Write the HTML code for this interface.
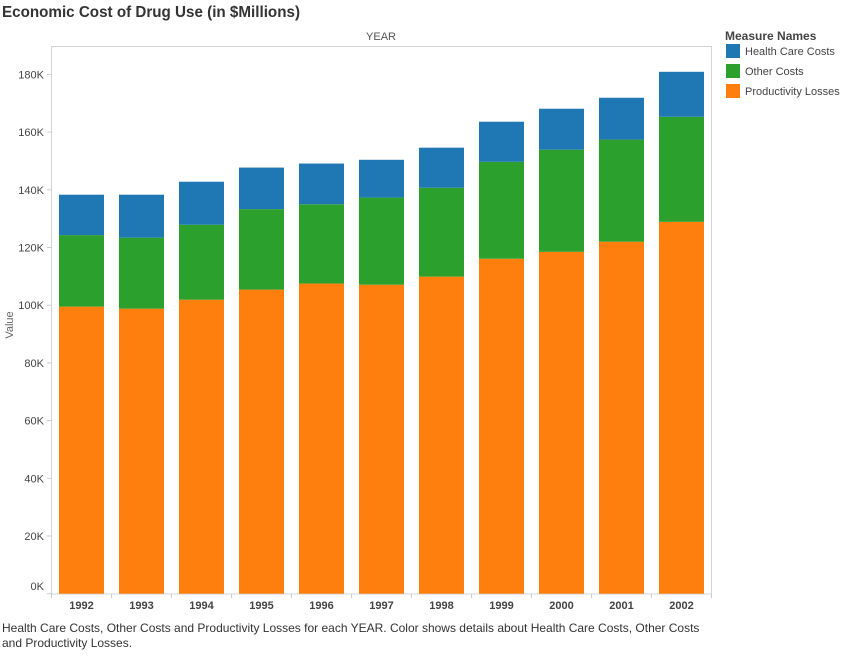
<!DOCTYPE html>
<html><head><meta charset="utf-8"><style>
body{margin:0;background:#fff;font-family:"Liberation Sans",sans-serif;}
svg text{font-family:"Liberation Sans",sans-serif;}
</style></head><body>
<svg id="chart" width="863" height="651" xmlns="http://www.w3.org/2000/svg">
<text x="2" y="17" font-size="16" font-weight="bold" fill="#333" textLength="298" lengthAdjust="spacingAndGlyphs">Economic Cost of Drug Use (in $Millions)</text>
<text x="381" y="40" font-size="11" fill="#555" text-anchor="middle">YEAR</text>
<text transform="translate(13,325) rotate(-90)" font-size="11" fill="#666" text-anchor="middle">Value</text>
<rect x="51.5" y="46.5" width="660" height="547.5" fill="none" stroke="#d4d4d4"/>
<g id="bars"></g><g id="yaxis"></g><g id="xaxis"></g>
<text x="725" y="40" font-size="12" font-weight="bold" fill="#444">Measure Names</text>
<g><rect x="726" y="44" width="14" height="14" fill="#1f77b4"/><text x="745" y="55" font-size="11" fill="#444">Health Care Costs</text></g>
<g><rect x="726" y="64" width="14" height="14" fill="#2ca02c"/><text x="745" y="75" font-size="11" fill="#444">Other Costs</text></g>
<g><rect x="726" y="84" width="14" height="14" fill="#ff7f0e"/><text x="745" y="95" font-size="11" fill="#444">Productivity Losses</text></g>
<text x="2" y="632" font-size="12" fill="#333">Health Care Costs, Other Costs and Productivity Losses for each YEAR.  Color shows details about Health Care Costs, Other Costs</text>
<text x="2" y="647" font-size="12" fill="#333">and Productivity Losses.</text>
</svg>
<script>
const years=["1992","1993","1994","1995","1996","1997","1998","1999","2000","2001","2002"];
const productivity=[99.5,98.8,101.9,105.4,107.5,107.1,109.9,116.1,118.5,122.0,128.9];
const other=[24.8,24.6,26.0,27.9,27.5,30.2,30.8,33.6,35.4,35.4,36.4];
const health=[14.0,14.9,14.9,14.4,14.1,13.1,13.9,13.9,14.2,14.5,15.6];
const yTicks=[0,20,40,60,80,100,120,140,160,180];
const NS="http://www.w3.org/2000/svg";
const y=v=>593.7-v*57.7/20;
const xc=i=>81.5+60*i;
const bars=document.getElementById('bars'),ya=document.getElementById('yaxis'),xa=document.getElementById('xaxis');
function mk(tag,attrs,parent){const e=document.createElementNS(NS,tag);for(const k in attrs)e.setAttribute(k,attrs[k]);parent.appendChild(e);return e;}
years.forEach((yr,i)=>{
  let base=0;
  [[productivity,'#ff7f0e','productivity'],[other,'#2ca02c','other'],[health,'#1f77b4','health']].forEach(([arr,c,n])=>{
    const v=arr[i];
    const r=mk('rect',{x:xc(i)-22.5,y:y(base+v),width:45,height:y(base)-y(base+v),fill:c},bars);
    
    
    base+=v;
  });
  const t=mk('text',{x:xc(i),y:609,'font-size':11,'font-weight':'bold',fill:'#444','text-anchor':'middle'},xa);
  t.textContent=yr;
  
  
  mk('line',{x1:51.5+60*i,x2:51.5+60*i,y1:594,y2:598,stroke:'#ccc'},xa);
});
mk('line',{x1:711.5,x2:711.5,y1:594,y2:598,stroke:'#ccc'},xa);
yTicks.forEach(v=>{
  const yy=y(v*1);
  mk('line',{x1:47,x2:51.5,y1:yy,y2:yy,stroke:'#ccc'},ya);
  const t=mk('text',{x:44,y:v===0?yy-3.5:yy+4,'font-size':11,fill:'#444','text-anchor':'end'},ya);
  t.textContent=v+'K';
  
  
});
</script>
</body></html>
